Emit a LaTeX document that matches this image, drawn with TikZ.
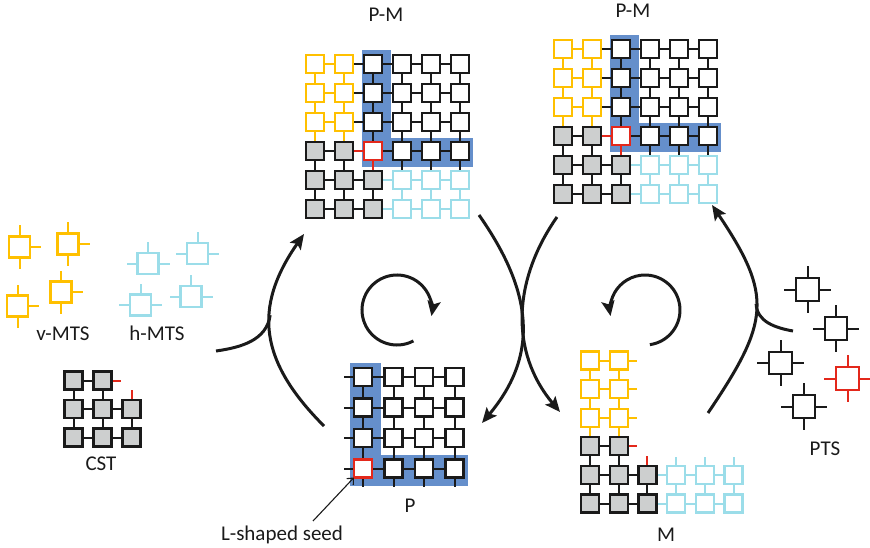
\documentclass[tikz,border=0pt]{standalone}
\usepackage{fontspec}
\setmainfont{Carlito}
\usetikzlibrary{arrows.meta}
\definecolor{tyel}{HTML}{FFC000}
\definecolor{tblu}{HTML}{9BDDE9}
\definecolor{tred}{HTML}{E3281B}
\definecolor{tgry}{HTML}{CDCFCF}
\definecolor{hlblu}{HTML}{658FCB}
\definecolor{ink}{HTML}{1A1A1A}
\pgfdeclarelayer{back}
\pgfdeclarelayer{mid}
\pgfsetlayers{back,mid,main}

\tikzset{
  tile/.style={draw=ink, fill=white, line width=2.3pt, minimum size=18pt, inner sep=0pt, outer sep=0pt},
  tK/.style={tile},
  tG/.style={tile, fill=tgry},
  tY/.style={tile, draw=tyel},
  tB/.style={tile, draw=tblu},
  tR/.style={tile, draw=tred},
  bond/.style={line width=2pt, draw=ink},
  ftile/.style={tile, minimum size=21pt, line width=2.2pt},
  ptile/.style={tile, minimum size=22.5pt, line width=2.2pt},
  arm/.style={line width=2pt},
  flow/.style={line width=3pt, draw=ink, -{Stealth[length=15pt,width=13pt,inset=3pt]}},
  flowline/.style={line width=3pt, draw=ink},
  lbl/.style={font=\fontsize{21}{24}\selectfont, inner sep=0pt, anchor=base, text=ink},
}

\newcommand{\PMgrid}[4]{%
 \begin{scope}[shift={(#2,-#3)}]
  \begin{pgfonlayer}{back}
   \fill[hlblu] (2*#4-11,14) rectangle (2*#4+18,-3*#4-16);
   \fill[hlblu] (2*#4-11,-3*#4+13) rectangle (5*#4+13,-3*#4-16);
  \end{pgfonlayer}
  \foreach \r in {0,1,2}{
   \foreach \c in {0,1} \node[tY] (#1-\r-\c) at (\c*#4,-\r*#4) {};
   \foreach \c in {2,...,5} \node[tK] (#1-\r-\c) at (\c*#4,-\r*#4) {};
  }
  \node[tG] (#1-3-0) at (0,-3*#4) {};
  \node[tG] (#1-3-1) at (#4,-3*#4) {};
  \node[tR] (#1-3-2) at (2*#4,-3*#4) {};
  \foreach \c in {3,4,5} \node[tK] (#1-3-\c) at (\c*#4,-3*#4) {};
  \foreach \r in {4,5}{
   \foreach \c in {0,1,2} \node[tG] (#1-\r-\c) at (\c*#4,-\r*#4) {};
   \foreach \c in {3,4,5} \node[tB] (#1-\r-\c) at (\c*#4,-\r*#4) {};
  }
  \begin{pgfonlayer}{mid}
   \foreach \r in {0,1,2}{
    \draw[bond,tyel] (#1-\r-0) -- (#1-\r-1);
    \foreach \c/\d in {1/2,2/3,3/4,4/5} \draw[bond] (#1-\r-\c) -- (#1-\r-\d);
   }
   \draw[bond] (#1-3-0) -- (#1-3-1);
   \draw[bond,tred] (#1-3-1) -- (#1-3-2);
   \foreach \c/\d in {2/3,3/4,4/5} \draw[bond] (#1-3-\c) -- (#1-3-\d);
   \foreach \r in {4,5}{
    \foreach \c/\d in {0/1,1/2} \draw[bond] (#1-\r-\c) -- (#1-\r-\d);
    \foreach \c/\d in {2/3,3/4,4/5} \draw[bond,tblu] (#1-\r-\c) -- (#1-\r-\d);
   }
   \foreach \r/\s in {0/1,1/2,2/3}{
    \foreach \c in {0,1} \draw[bond,tyel] (#1-\r-\c) -- (#1-\s-\c);
    \foreach \c in {2,...,5} \draw[bond] (#1-\r-\c) -- (#1-\s-\c);
   }
   \foreach \c in {0,1,3,4,5} \draw[bond] (#1-3-\c) -- (#1-4-\c);
   \draw[bond,tred] (#1-3-2) -- (#1-4-2);
   \foreach \c in {0,1,2} \draw[bond] (#1-4-\c) -- (#1-5-\c);
   \foreach \c in {3,4,5} \draw[bond,tblu] (#1-4-\c) -- (#1-5-\c);
  \end{pgfonlayer}
 \end{scope}}

\newcommand{\vmts}[3]{%
 \node[ftile,draw=tyel] (#1) at (#2,-#3) {};
 \draw[arm,tyel] (#1.north) -- ++(0,11) (#1.south) -- ++(0,-11) (#1.east) -- ++(11,0);}
\newcommand{\hmts}[3]{%
 \node[ftile,draw=tblu] (#1) at (#2,-#3) {};
 \draw[arm,tblu] (#1.north) -- ++(0,11) (#1.west) -- ++(-11,0) (#1.east) -- ++(11,0);}
\newcommand{\ptsTile}[4]{%
 \node[ptile,draw=#4] (#1) at (#2,-#3) {};
 \draw[arm,#4] (#1.north) -- ++(0,12) (#1.south) -- ++(0,-12) (#1.west) -- ++(-12,0) (#1.east) -- ++(12,0);}

\begin{document}
\begin{tikzpicture}[x=1pt,y=1pt]
\useasboundingbox (0,0) rectangle (870,-548);

% ---------- P-M grids ----------
\PMgrid{A}{315}{64}{29}
\PMgrid{B}{563}{49}{29}

% ---------- P grid ----------
\begin{scope}[shift={(363,-377)}]
 \begin{pgfonlayer}{back}
  \fill[hlblu] (-13,14) rectangle (18,-3*30.5-17);
  \fill[hlblu] (-13,-3*30.5+14) rectangle (3*30.5+13.5,-3*30.5-17);
 \end{pgfonlayer}
 \foreach \r in {0,1,2} \foreach \c in {0,...,3} \node[tK] (P-\r-\c) at (\c*30.5,-\r*30.5) {};
 \node[tR] (P-3-0) at (0,-3*30.5) {};
 \foreach \c in {1,2,3} \node[tK] (P-3-\c) at (\c*30.5,-3*30.5) {};
 \begin{pgfonlayer}{mid}
  \foreach \r in {0,...,3} \foreach \c/\d in {0/1,1/2,2/3} \draw[bond] (P-\r-\c) -- (P-\r-\d);
  \foreach \r/\s in {0/1,1/2,2/3} \foreach \c in {0,...,3} \draw[bond] (P-\r-\c) -- (P-\s-\c);
  \foreach \r in {0,...,3} \draw[bond] (P-\r-0.west) -- ++(-10,0);
  \foreach \c in {0,...,3} \draw[bond] (P-3-\c.south) -- ++(0,-9);
 \end{pgfonlayer}
\end{scope}

% ---------- M grid ----------
\begin{scope}[shift={(590,-360.5)}]
 \foreach \r in {0,1,2} \foreach \c in {0,1} \node[tY] (M-\r-\c) at (\c*28.7,-\r*28.6) {};
 \foreach \c in {0,1} \node[tG] (M-3-\c) at (\c*28.7,-3*28.6) {};
 \foreach \r in {4,5}{
  \foreach \c in {0,1,2} \node[tG] (M-\r-\c) at (\c*28.7,-\r*28.6) {};
  \foreach \c in {3,4,5} \node[tB] (M-\r-\c) at (\c*28.7,-\r*28.6) {};
 }
 \begin{pgfonlayer}{mid}
  \foreach \r in {0,1,2} \draw[bond,tyel] (M-\r-0) -- (M-\r-1);
  \foreach \r/\s in {0/1,1/2,2/3} \foreach \c in {0,1} \draw[bond,tyel] (M-\r-\c) -- (M-\s-\c);
  \draw[bond] (M-3-0) -- (M-3-1);
  \foreach \c in {0,1} \draw[bond] (M-3-\c) -- (M-4-\c);
  \foreach \r in {4,5}{
   \foreach \c/\d in {0/1,1/2} \draw[bond] (M-\r-\c) -- (M-\r-\d);
   \foreach \c/\d in {2/3,3/4,4/5} \draw[bond,tblu] (M-\r-\c) -- (M-\r-\d);
  }
  \foreach \c in {0,1,2} \draw[bond] (M-4-\c) -- (M-5-\c);
  \foreach \c in {3,4,5} \draw[bond,tblu] (M-4-\c) -- (M-5-\c);
  \foreach \r in {0,1,2} \draw[bond,tyel] (M-\r-1.east) -- ++(9,0);
  \draw[bond,tred] (M-3-1.east) -- ++(9,0);
  \draw[bond,tred] (M-4-2.north) -- ++(0,10);
  \foreach \c in {3,4,5} \draw[bond,tblu] (M-4-\c.north) -- ++(0,9);
 \end{pgfonlayer}
\end{scope}

% ---------- CST ----------
\begin{scope}[shift={(73.5,-380.5)}]
 \foreach \c in {0,1} \node[tG] (C-0-\c) at (\c*29,0) {};
 \foreach \r in {1,2} \foreach \c in {0,1,2} \node[tG] (C-\r-\c) at (\c*29,-\r*28.5) {};
 \begin{pgfonlayer}{mid}
  \draw[bond] (C-0-0) -- (C-0-1);
  \foreach \r in {1,2} \foreach \c/\d in {0/1,1/2} \draw[bond] (C-\r-\c) -- (C-\r-\d);
  \foreach \c in {0,1} \draw[bond] (C-0-\c) -- (C-1-\c);
  \foreach \c in {0,1,2} \draw[bond] (C-1-\c) -- (C-2-\c);
  \draw[bond,tred] (C-0-1.east) -- ++(9,0);
  \draw[bond,tred] (C-1-2.north) -- ++(0,10);
 \end{pgfonlayer}
\end{scope}

% ---------- free tiles ----------
\vmts{v1}{19.5}{247}
\vmts{v2}{68}{244}
\vmts{v3}{17.5}{306}
\vmts{v4}{61}{292}
\hmts{h1}{148}{263.5}
\hmts{h2}{197.5}{253.5}
\hmts{h3}{140.5}{305}
\hmts{h4}{191}{296.5}
\ptsTile{s1}{807.5}{289.5}{ink}
\ptsTile{s2}{836}{328.5}{ink}
\ptsTile{s3}{780.5}{363}{ink}
\ptsTile{s4}{847.5}{378.5}{tred}
\ptsTile{s5}{804}{406.5}{ink}

% ---------- labels ----------
\node[lbl] (lpm1) at (386,-22) {P-M};
\node[lbl] (lpm2) at (633,-17.5) {P-M};
\node[lbl] (lv) at (63,-340.5) {v-MTS};
\node[lbl] (lh) at (157,-340.5) {h-MTS};
\node[lbl] (lc) at (101,-470) {CST};
\node[lbl] (lp) at (410,-512.5) {P};
\node[lbl] (ls) at (282,-540) {L-shaped seed};
\node[lbl] (lm) at (666,-541.5) {M};
\node[lbl] (lt) at (825,-455) {PTS};

% ---------- arrows ----------
\coordinate (ls1) at (324,-426);
\coordinate (le1) at (304,-234);
\coordinate (lm1) at (216,-351);
\draw[flow] (ls1) to[out=135,in=235,looseness=1.2] coordinate[pos=0.6] (j1) (le1);
\draw[flowline] (lm1) to[out=8,in=262] (j1);

\coordinate (rs1) at (708,-413);
\coordinate (re1) at (712,-205);
\coordinate (rm1) at (793,-331);
\draw[flow] (rs1) to[out=56,in=-56,looseness=1.35] coordinate[pos=0.53] (j2) (re1);
\draw[flowline] (rm1) to[out=170,in=-88] (j2);

\coordinate (ms1) at (479,-215);
\coordinate (me1) at (482,-423);
\coordinate (ms2) at (557,-217);
\coordinate (me2) at (560,-412);
\draw[flow] (ms1) to[out=-55,in=50,looseness=1.12] (me1);
\draw[flow] (ms2) to[out=-125,in=130,looseness=1.02] (me2);

\coordinate (cl) at (397,-310);
\coordinate (cr) at (645,-310);
\draw[flow] (cl) ++(-62:35) arc[start angle=-62,end angle=-370,radius=35];
\draw[flow] (cr) ++(-82:35) arc[start angle=-82,end angle=190,radius=35];

\coordinate (seedfrom) at (313,-521);
\draw[line width=1.1pt, draw=ink, -{Straight Barb[length=5pt,width=9pt]}] (seedfrom) -- (P-3-0.south west);
\end{tikzpicture}
\end{document}
